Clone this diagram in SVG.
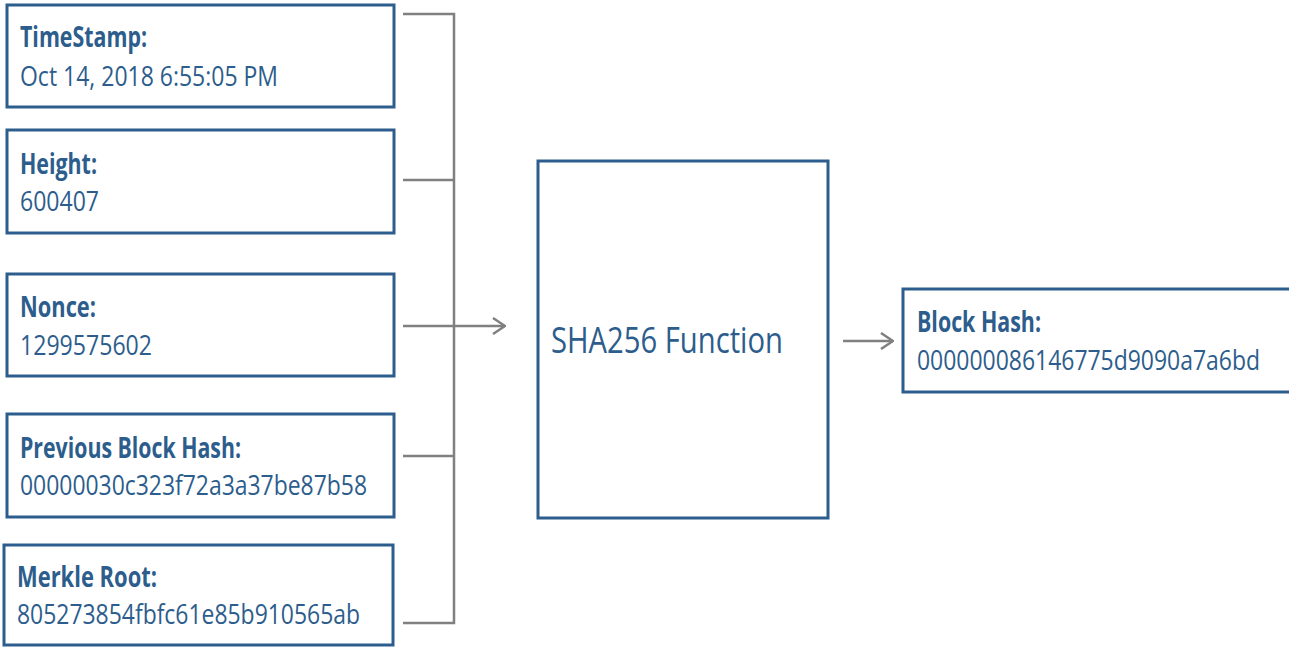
<svg xmlns="http://www.w3.org/2000/svg" width="1289" height="648" viewBox="0 0 1289 648">
  <style>
    .box { fill: #ffffff; stroke: #2c5d8c; stroke-width: 3; }
    .title { font-family: "Open Sans", "Noto Sans", sans-serif; font-weight: bold; font-size: 28px; fill: #2c5d8c; }
    .val { font-family: "Open Sans", "Noto Sans", sans-serif; font-size: 28px; fill: #2c5d8c; }
    .big { font-family: "Open Sans", "Noto Sans", sans-serif; font-size: 36px; fill: #2c5d8c; }
    .wire { fill: none; stroke: #808080; stroke-width: 2.5; }
  </style>
  <defs>
    <marker id="chev" viewBox="0 0 14 18" refX="13" refY="9" markerWidth="14" markerHeight="18" markerUnits="userSpaceOnUse" orient="auto">
      <path d="M1,1 L13,9 L1,17" fill="none" stroke="#808080" stroke-width="2.5"/>
    </marker>
  </defs>
  <rect width="1289" height="648" fill="#ffffff"/>

  <g id="connectors">
    <path class="wire" d="M403,14 H454 V623 H403"/>
    <path class="wire" d="M403,180 H454"/>
    <path class="wire" d="M403,456 H454"/>
    <path class="wire" d="M403,326 H505" marker-end="url(#chev)"/>
    <path class="wire" d="M843,341 H893" marker-end="url(#chev)"/>
  </g>

  <g id="timestamp">
    <rect class="box" x="7" y="5" width="387" height="102"/>
    <text class="title" x="20" y="47" textLength="127" lengthAdjust="spacingAndGlyphs">TimeStamp:</text>
    <text class="val" x="20" y="86" textLength="258" lengthAdjust="spacingAndGlyphs">Oct 14, 2018 6:55:05 PM</text>
  </g>

  <g id="height">
    <rect class="box" x="7" y="130" width="387" height="103"/>
    <text class="title" x="20" y="174" textLength="77" lengthAdjust="spacingAndGlyphs">Height:</text>
    <text class="val" x="20" y="211" textLength="79" lengthAdjust="spacingAndGlyphs">600407</text>
  </g>

  <g id="nonce">
    <rect class="box" x="7" y="274" width="387" height="102"/>
    <text class="title" x="20" y="317" textLength="76" lengthAdjust="spacingAndGlyphs">Nonce:</text>
    <text class="val" x="20" y="355" textLength="132" lengthAdjust="spacingAndGlyphs">1299575602</text>
  </g>

  <g id="previous-hash">
    <rect class="box" x="7" y="414" width="387" height="103"/>
    <text class="title" x="20" y="458" textLength="221" lengthAdjust="spacingAndGlyphs">Previous Block Hash:</text>
    <text class="val" x="20" y="495" textLength="347" lengthAdjust="spacingAndGlyphs">00000030c323f72a3a37be87b58</text>
  </g>

  <g id="merkle-root">
    <rect class="box" x="4" y="545" width="389" height="100"/>
    <text class="title" x="17" y="587" textLength="140" lengthAdjust="spacingAndGlyphs">Merkle Root:</text>
    <text class="val" x="17" y="624" textLength="343" lengthAdjust="spacingAndGlyphs">805273854fbfc61e85b910565ab</text>
  </g>

  <g id="sha256">
    <rect class="box" x="538" y="161" width="290" height="357"/>
    <text class="big" x="551" y="353" textLength="232" lengthAdjust="spacingAndGlyphs">SHA256 Function</text>
  </g>

  <g id="block-hash">
    <!-- box runs off the right edge: only top, left and bottom sides show -->
    <path class="box" d="M1289,289 H903 V392 H1289"/>
    <text class="title" x="917" y="332" textLength="124" lengthAdjust="spacingAndGlyphs">Block Hash:</text>
    <text class="val" x="917" y="370" textLength="343" lengthAdjust="spacingAndGlyphs">000000086146775d9090a7a6bd</text>
  </g>
</svg>
